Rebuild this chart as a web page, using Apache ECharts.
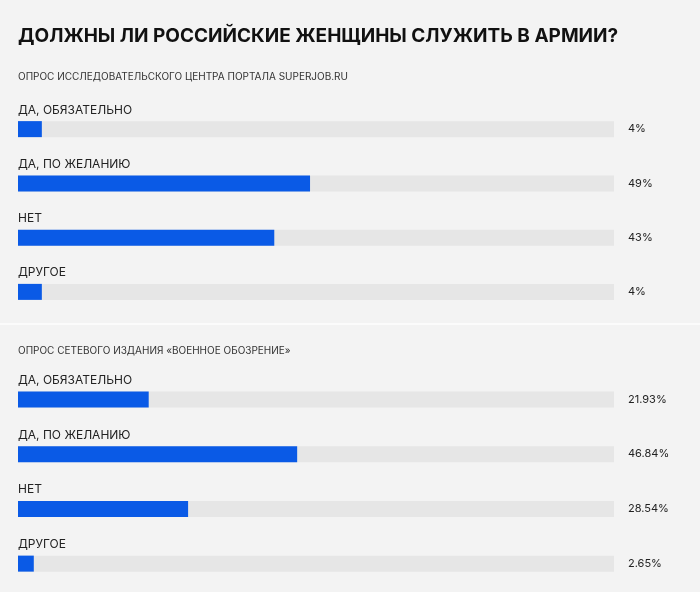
<!DOCTYPE html>
<html><head><meta charset="utf-8">
<script src="https://cdn.jsdelivr.net/npm/echarts@6/dist/echarts.min.js"></script>
<style>html,body{margin:0;background:#f3f3f3}#c{width:700px;height:592px}</style>
</head><body><div id="c"></div>
<script>
const categories = ['ДА, ОБЯЗАТЕЛЬНО','ДА, ПО ЖЕЛАНИЮ','НЕТ','ДРУГОЕ'];
const superjobValues = [4,49,43,4];
const superjobLabels = ['4%','49%','43%','4%'];
const voValues = [21.93,46.84,28.54,2.65];
const voLabels = ['21.93%','46.84%','28.54%','2.65%'];
const F = 'Inter, "Noto Sans", sans-serif';
const chart = echarts.init(document.getElementById('c'));
function seriesFor(idx, vals, labs){
  return [
    {type:'bar',xAxisIndex:idx,yAxisIndex:idx,data:categories.map(()=>100),barWidth:16,barGap:'-100%',silent:true,
     itemStyle:{color:'#e6e6e6'},
     label:{show:true,position:'right',distance:14,formatter:p=>labs[p.dataIndex],color:'#222',fontSize:11,fontFamily:F}},
    {type:'bar',xAxisIndex:idx,yAxisIndex:idx,data:vals,barWidth:16,barGap:'-100%',silent:true,itemStyle:{color:'#0a5ae6'}},
    {type:'bar',xAxisIndex:idx,yAxisIndex:idx,data:categories.map(()=>100),barWidth:16,barGap:'-100%',silent:true,
     itemStyle:{color:'transparent'},
     label:{show:true,position:[0,-17],formatter:p=>categories[p.dataIndex],color:'#222',fontSize:12,fontFamily:F}}
  ];
}
chart.setOption({
  backgroundColor:'#f3f3f3',
  animation:false,
  title:[
    {text:'ДОЛЖНЫ ЛИ РОССИЙСКИЕ ЖЕНЩИНЫ СЛУЖИТЬ В АРМИИ?',left:18,top:27,padding:0,textStyle:{fontSize:19,fontWeight:'bold',color:'#111',fontFamily:F}},
    {text:'ОПРОС ИССЛЕДОВАТЕЛЬСКОГО ЦЕНТРА ПОРТАЛА SUPERJOB.RU',left:18,top:72,padding:0,textStyle:{fontSize:10,fontWeight:'normal',color:'#333',fontFamily:F}},
    {text:'ОПРОС СЕТЕВОГО ИЗДАНИЯ «ВОЕННОЕ ОБОЗРЕНИЕ»',left:18,top:346,padding:0,textStyle:{fontSize:10,fontWeight:'normal',color:'#333',fontFamily:F}}
  ],
  graphic:[{type:'rect',shape:{x:0,y:323,width:700,height:2},style:{fill:'#fbfbfb'}}],
  grid:[{left:18,right:86,top:102,height:217},{left:18,right:86,top:372,height:219}],
  xAxis:[0,1].map(i=>({type:'value',gridIndex:i,min:0,max:100,show:false})),
  yAxis:[0,1].map(i=>({type:'category',gridIndex:i,data:categories,inverse:true,show:false})),
  series:[...seriesFor(0,superjobValues,superjobLabels),...seriesFor(1,voValues,voLabels)]
});
</script></body></html>
